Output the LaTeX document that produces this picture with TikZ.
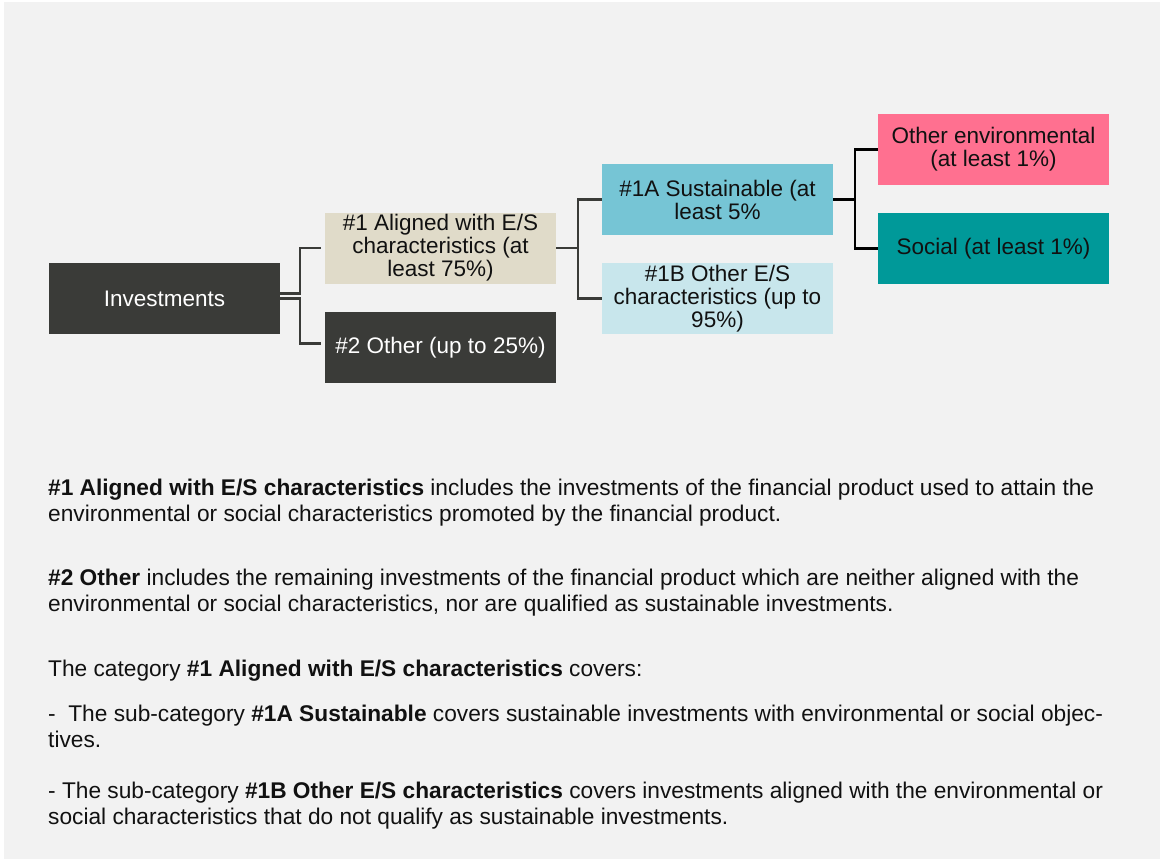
\documentclass[tikz,border=0pt]{standalone}
\usepackage{fontspec}
\setmainfont{Liberation Sans}
\definecolor{bg}{HTML}{F2F2F2}
\definecolor{dark}{HTML}{3A3B38}
\definecolor{beige}{HTML}{E0DBC9}
\definecolor{sustc}{HTML}{76C5D5}
\definecolor{oesc}{HTML}{C8E6EC}
\definecolor{envc}{HTML}{FF7090}
\definecolor{socc}{HTML}{009999}
\definecolor{txt}{HTML}{111111}
\begin{document}
\begin{tikzpicture}[x=1pt,y=-1pt,
  box/.style={rectangle, minimum width=231pt, minimum height=71pt, inner sep=0pt, align=center, font=\fontsize{22.5}{23}\selectfont},
  para/.style={anchor=base west, inner sep=0pt, font=\fontsize{22.7}{26}\selectfont, text=txt},
  lconn/.style={draw=dark, line width=2.2pt},
  rconn/.style={draw=black, line width=2.2pt}]
\useasboundingbox (0,0) rectangle (1160,859);
\fill[bg] (4,2) rectangle (1160,859);
\node[box, fill=dark, text=white] (inv) at (164.5,298.5) {Investments};
\node[box, fill=beige, text=txt] (a1) at (440.5,248) {\#1 Aligned with E/S\\characteristics (at\\least 75\%)};
\node[box, fill=dark, text=white] (o2) at (440.5,347.5) {\#2 Other (up to 25\%)};
\node[box, fill=sustc, text=txt] (s1a) at (717.5,199.5) {\#1A Sustainable (at\\least 5\%};
\node[box, fill=oesc, text=txt] (o1b) at (717.5,298.5) {\#1B Other E/S\\characteristics (up to\\95\%)};
\node[box, fill=envc, text=txt] (env) at (993.5,149.5) {Other environmental\\(at least 1\%)};
\node[box, fill=socc, text=txt] (soc) at (993.5,248.5) {Social (at least 1\%)};
\draw[lconn] ([yshift=5pt]inv.east) -- ++(20,0) |- ([xshift=-4pt]a1.west);
\draw[lconn] (inv.east) -- ++(20,0) |- ([xshift=-4pt,yshift=4pt]o2.west);
\draw[lconn] (a1.east) -- ++(22,0) |- (s1a.west);
\draw[lconn] (a1.east) -- ++(22,0) |- (o1b.west);
\draw[rconn] (s1a.east) -- ++(22,0) |- (env.west);
\draw[rconn] (s1a.east) -- ++(22,0) |- (soc.west);
\node[para] (p1) at (48,495) {\textbf{\#1 Aligned with E/S characteristics} includes the investments of the financial product used to attain the};
\node[para] (p2) at (48,521) {environmental or social characteristics promoted by the financial product.};
\node[para] (p3) at (48,585) {\textbf{\#2 Other} includes the remaining investments of the financial product which are neither aligned with the};
\node[para] (p4) at (48,611) {environmental or social characteristics, nor are qualified as sustainable investments.};
\node[para] (p5) at (48,676) {The category \textbf{\#1 Aligned with E/S characteristics} covers:};
\node[para] (p6) at (48,721) {-\ \ The sub-category \textbf{\#1A Sustainable} covers sustainable investments with environmental or social objec-};
\node[para] (p7) at (48,747) {tives.};
\node[para] (p8) at (48,798) {- The sub-category \textbf{\#1B Other E/S characteristics} covers investments aligned with the environmental or};
\node[para] (p9) at (48,824) {social characteristics that do not qualify as sustainable investments.};
\end{tikzpicture}
\end{document}
